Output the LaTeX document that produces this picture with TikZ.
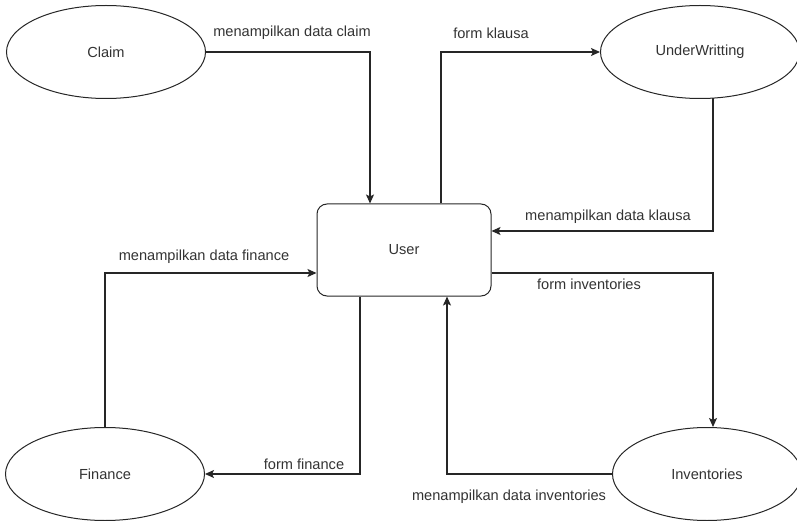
\documentclass[tikz,border=0pt]{standalone}
\usepackage{fontspec}
\setmainfont{Liberation Sans}
\usetikzlibrary{shapes.geometric,arrows.meta}
\begin{document}
\begin{tikzpicture}[x=1pt,y=-1pt,
  every node/.style={font=\fontsize{14.6}{17}\selectfont, text=black!80},
  proc/.style={draw=black!85, line width=1pt, ellipse, minimum width=199pt, minimum height=93pt, inner sep=0pt},
  userbox/.style={draw=black!85, line width=1pt, rounded corners=10pt, minimum width=174pt, minimum height=92pt, inner sep=0pt},
  conn/.style={draw=black!85, line width=1.2pt},
  arr/.style={conn, -{Stealth[length=9pt,width=8pt,inset=2pt]}},
  lbl/.style={inner sep=0pt}]
\useasboundingbox (0,0) rectangle (797,521);
\node[proc] (claim) at (106,52) {Claim};
\node[proc] (under) at (700,52) {UnderWritting};
\node[userbox] (user) at (404,250) {User};
\node[proc] (fin) at (105,474) {Finance};
\node[proc, minimum width=189pt] (inv) at (707,474) {Inventories};

\draw[arr] (claim.east) -| ([xshift=-34pt]user.north);
\draw[arr] ([xshift=37pt]user.north) |- (under.west);
\draw[arr] ([xshift=13pt,yshift=0.5pt]under.south) |- ([yshift=19pt]user.east);
\draw[arr] ([yshift=-23pt]user.east) -| ([xshift=6pt]inv.north);
\draw[arr] (inv.west) -| ([xshift=43pt]user.south);
\draw[arr] ([xshift=-44pt]user.south) |- (fin.east);
\draw[arr] (fin.north) |- ([yshift=-23pt]user.west);

\node[lbl] (l1) at (292,33) {menampilkan data claim};
\node[lbl] (l2) at (491,33) {form klausa};
\node[lbl] (l3) at (608,217) {menampilkan data klausa};
\node[lbl] (l4) at (589,284) {form inventories};
\node[lbl] (l5) at (204,257) {menampilkan data finance};
\node[lbl] (l6) at (304,464) {form finance};
\node[lbl] (l7) at (509,497) {menampilkan data inventories};
\end{tikzpicture}
\end{document}
